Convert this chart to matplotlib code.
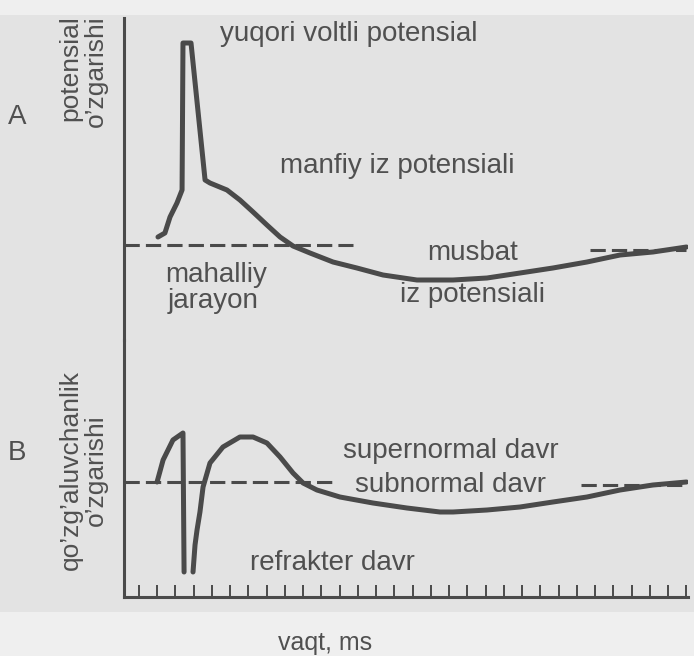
import matplotlib
matplotlib.use("Agg")
import matplotlib.pyplot as plt
from matplotlib.patches import Rectangle

# ---------------- data (time in ms ticks, values relative to baseline) ----------------
a_time = [2.04, 2.42, 2.70, 3.08, 3.36, 3.41, 3.85, 4.62, 4.89, 5.82, 6.53, 7.25,
          8.01, 8.73, 9.44, 10.37, 11.63, 12.94, 14.37, 16.23, 18.21, 20.07,
          21.88, 23.68, 25.55, 27.36, 29.16, 31.0]
a_potential = [4, 6, 14, 21, 27.5, 101, 101, 32.5, 31, 27.5, 22.5, 16.5,
               10, 4, -0.5, -4, -8.5, -11.5, -15, -17.5, -17.5, -16.5,
               -14, -11.5, -8.5, -5, -3.5, -1]

b_time_left = [1.99, 2.32, 2.86, 3.41, 3.47]
b_excit_left = [0, 11, 21, 24.5, -45]

b_time_right = [3.96, 4.07, 4.18, 4.34, 4.51, 4.89, 5.60, 6.53, 7.25, 8.01, 8.73,
                9.44, 9.99, 10.75, 12.01, 13.82, 15.68, 17.49, 18.21, 20.07,
                21.88, 23.68, 25.55, 27.36, 29.16, 31.0]
b_excit_right = [-45, -31.5, -24, -15, -2.5, 9.5, 17.5, 22.5, 22.5, 19.5, 12.5,
                 4.5, -0.5, -4, -7.5, -10.5, -13, -15, -15, -14,
                 -12.5, -10, -7.5, -4, -1.5, 0]

a_base_left_t = [0.2, 12.7]
a_base_right_t = [25.7, 31.0]
a_base_right_v = [-2.5, -2.5]
b_base_left_t = [0.2, 11.85]
b_base_right_t = [25.2, 31.0]
b_base_right_v = [-1.5, -1.5]

time_ticks = list(range(1, 32))

# ---------------- figure ----------------
W, H = 694, 656
fig = plt.figure(figsize=(W / 100, H / 100), dpi=100, facecolor="#efefef")
fig.patches.append(Rectangle((0, (H - 612) / H), 1, (612 - 15) / H,
                             transform=fig.transFigure, facecolor="#e3e3e3",
                             edgecolor="none", zorder=-10))

LINE = "#4a4a4a"
TXT = "#505050"
FONT = "Liberation Sans"

x0, x1 = 124.4, 688.3
axA = fig.add_axes([x0 / W, (H - 340) / H, (x1 - x0) / W, (340 - 18) / H])
axB = fig.add_axes([x0 / W, (H - 597) / H, (x1 - x0) / W, (597 - 340) / H])

for ax in (axA, axB):
    ax.set_facecolor("none")
    ax.set_xlim(0.2, 31.1)
    for s in ("top", "right", "bottom"):
        ax.spines[s].set_visible(False)
    ax.spines["left"].set_linewidth(2.2)
    ax.spines["left"].set_color(LINE)
    ax.set_yticks([])

axA.set_ylim(-47.5, 113.5)
axB.set_ylim(-57.5, 71)
axA.set_xticks([])

axB.spines["bottom"].set_visible(True)
axB.spines["bottom"].set_linewidth(2.2)
axB.spines["bottom"].set_color(LINE)
axB.set_xticks(time_ticks)
axB.set_xticklabels([])
axB.tick_params(axis="x", direction="in", length=8.5, width=1.4, color=LINE)

lw = 3.6
dash_kw = dict(color=LINE, lw=2.2, dashes=(5, 2), solid_capstyle="butt")
curve_kw = dict(color=LINE, lw=lw, solid_joinstyle="round", solid_capstyle="round")

# panel A
axA.plot(a_base_left_t, [0, 0], **dash_kw)
axA.plot(a_base_right_t, a_base_right_v, **dash_kw)
axA.plot(a_time, a_potential, **curve_kw)

# panel B
axB.plot(b_base_left_t, [0, 0], **dash_kw)
axB.plot(b_base_right_t, b_base_right_v, **dash_kw)
axB.plot(b_time_left, b_excit_left, **curve_kw)
axB.plot(b_time_right, b_excit_right, **curve_kw)


def px(x, y):
    return x / W, 1 - y / H


def label(x, y, s, size=20, **kw):
    fig.text(*px(x, y), s, fontsize=size, color=TXT, family=FONT,
             va=kw.pop("va", "baseline"), ha=kw.pop("ha", "left"), **kw)


label(220, 41, "yuqori voltli potensial")
label(280, 173, "manfiy iz potensiali")
label(427, 260, "musbat")
label(400, 302, "iz potensiali")
label(165, 282, "mahalliy")
label(168, 308, "jarayon")
label(343, 458, "supernormal davr")
label(355, 492, "subnormal davr")
label(250, 570, "refrakter davr")
label(278, 650, "vaqt, ms", size=18)

label(17, 117, "A", ha="center", va="center")
label(17, 453, "B", ha="center", va="center")

label(83, 15, "potensial\no’zgarishi", size=19, rotation=90, ha="center",
      va="top", multialignment="right", linespacing=1.1)
label(83, 470, "qo’zg’aluvchanlik\no’zgarishi", size=19, rotation=90,
      ha="center", va="center", multialignment="center", linespacing=1.05)

fig.savefig("out.png", dpi=100, facecolor=fig.get_facecolor())
